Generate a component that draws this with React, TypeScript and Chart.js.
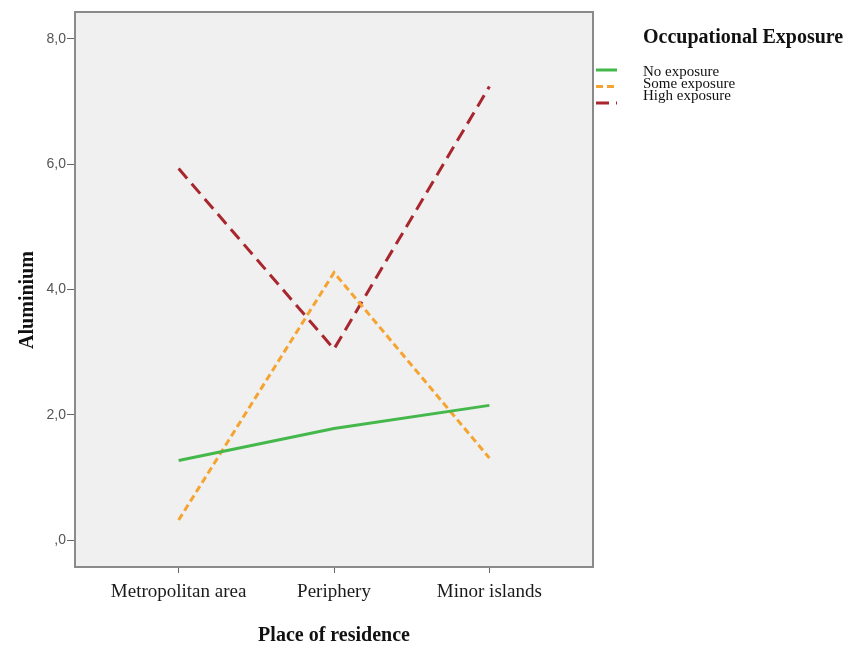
import React, { useEffect, useRef } from "react";
import { Chart, registerables } from "chart.js";

Chart.register(...registerables);

const categories = ["Metropolitan area", "Periphery", "Minor islands"];
const noExposure = [1.27, 1.78, 2.15];
const someExposure = [0.32, 4.27, 1.31];
const highExposure = [5.93, 3.05, 7.24];
const yTicks = [0, 2, 4, 6, 8];
const legendTitle = "Occupational Exposure";
const seriesNames = ["No exposure", "Some exposure", "High exposure"];
const yTitle = "Aluminium";
const xTitle = "Place of residence";

const SERIF = "'Liberation Serif', 'Times New Roman', serif";
const SANS = "'Liberation Sans', Arial, sans-serif";

const colors = ["#44b84a", "#f5a431", "#a8262d"];
const dashes: number[][] = [[], [7, 4], [13, 7]];

const bgPlugin = {
  id: "bgFrame",
  beforeDraw(chart: any) {
    const { ctx, chartArea: a } = chart;
    ctx.save();
    ctx.fillStyle = "#f0f0f0";
    ctx.fillRect(a.left, a.top, a.right - a.left, a.bottom - a.top);
    ctx.restore();
  },
  afterDraw(chart: any) {
    const { ctx, chartArea: a } = chart;
    ctx.save();
    ctx.strokeStyle = "#8a8a8a";
    ctx.lineWidth = 2;
    ctx.strokeRect(a.left, a.top, a.right - a.left, a.bottom - a.top);
    // y title
    ctx.save();
    ctx.translate(28, 300);
    ctx.rotate(-Math.PI / 2);
    ctx.fillStyle = "#111";
    ctx.font = `bold 20px ${SERIF}`;
    ctx.textAlign = "center";
    ctx.textBaseline = "middle";
    ctx.fillText(yTitle, 0, 0);
    ctx.restore();
    // legend
    ctx.fillStyle = "#111";
    ctx.font = `bold 20px ${SERIF}`;
    ctx.textBaseline = "middle";
    ctx.textAlign = "left";
    ctx.fillText(legendTitle, 643, 38);
    chart.data.datasets.forEach((ds: any, i: number) => {
      const ly = 70 + i * 16.5;
      ctx.save();
      ctx.strokeStyle = ds.borderColor;
      ctx.lineWidth = 3;
      ctx.setLineDash(ds.borderDash || []);
      ctx.beginPath();
      ctx.moveTo(596, ly);
      ctx.lineTo(617, ly);
      ctx.stroke();
      ctx.restore();
      ctx.fillStyle = "#111";
      ctx.font = `15px ${SERIF}`;
      ctx.fillText(ds.label, 643, 72 + i * 12);
    });
    ctx.restore();
  },
};

export default function App() {
  const ref = useRef<HTMLCanvasElement | null>(null);
  useEffect(() => {
    if (!ref.current) return;
    const series = [noExposure, someExposure, highExposure];
    const chart = new Chart(ref.current, {
      type: "line",
      data: {
        datasets: series.map((vals, i) => ({
          label: seriesNames[i],
          data: vals.map((v, j) => ({ x: j, y: v })),
          borderColor: colors[i],
          backgroundColor: colors[i],
          borderWidth: 3,
          borderDash: dashes[i],
          pointRadius: 0,
          tension: 0,
          fill: false,
        })),
      },
      options: {
        animation: false,
        responsive: false,
        maintainAspectRatio: false,
        layout: { padding: { top: 12, right: 264, left: 0, bottom: 0 } },
        plugins: {
          legend: { display: false },
          tooltip: { enabled: false },
        },
        scales: {
          x: {
            type: "linear",
            min: -0.667,
            max: 2.667,
            afterBuildTicks: (s: any) => {
              s.ticks = categories.map((_, i) => ({ value: i }));
            },
            afterFit: (s: any) => {
              s.height = 82;
            },
            ticks: {
              callback: (v: any) => categories[v] ?? "",
              color: "#1a1a1a",
              font: { family: SERIF, size: 19 },
              padding: 8,
              autoSkip: false,
              maxRotation: 0,
            },
            grid: {
              display: true,
              drawOnChartArea: false,
              drawTicks: true,
              tickLength: 6,
              color: "#666",
            },
            border: { display: false },
            title: {
              display: true,
              text: xTitle,
              color: "#111",
              font: { family: SERIF, size: 20, weight: "bold" },
              padding: { top: 0, bottom: 1 },
            },
          },
          y: {
            type: "linear",
            min: -0.43,
            max: 8.43,
            afterBuildTicks: (s: any) => {
              s.ticks = yTicks.map((v) => ({ value: v }));
            },
            afterFit: (s: any) => {
              s.width = 75;
            },
            ticks: {
              callback: (v: any) => (v === 0 ? ",0" : Number(v).toFixed(1).replace(".", ",")),
              color: "#555",
              font: { family: SANS, size: 14 },
              padding: 1,
            },
            grid: {
              display: true,
              drawOnChartArea: false,
              drawTicks: true,
              tickLength: 8,
              color: "#666",
            },
            border: { display: false },
            title: { display: false },
          },
        },
      },
      plugins: [bgPlugin],
    } as any);
    return () => chart.destroy();
  }, []);
  return (
    <div style={{ position: "fixed", left: 0, top: 0, width: 857, height: 649, background: "#fff" }}>
      <canvas ref={ref} width={857} height={649} style={{ width: 857, height: 649, display: "block" }} />
    </div>
  );
}
